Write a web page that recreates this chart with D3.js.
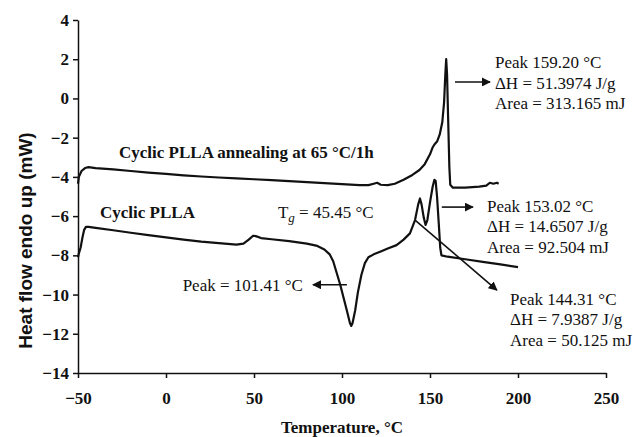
<!DOCTYPE html>
<head>
  <meta charset="utf-8">
  <script src="https://cdn.jsdelivr.net/npm/d3@7"></script>
  <style>
    body { margin:0; background:#fff; }
    .tick text { font-family: "Liberation Serif", "Times New Roman", serif; font-weight: bold; font-size: 17px; fill: #111; }
    .note { font-family: "Liberation Serif", "Times New Roman", serif; font-size: 17px; fill: #111; }
    .label { font-family: "Liberation Serif", "Times New Roman", serif; font-size: 17px; font-weight: bold; fill: #111; }
  </style>
</head>
<body>
<script>
  // annealed sample: [temperature °C, heat flow mW]
  var annealed = [
    [-50, -4.35], [-49.5, -4.0], [-48, -3.7], [-46, -3.55], [-44, -3.5], [-40, -3.55],
    [-30, -3.62], [-20, -3.7], [-10, -3.78], [0, -3.85], [10, -3.92], [20, -3.98],
    [30, -4.03], [40, -4.08], [50, -4.12], [60, -4.17], [70, -4.22], [80, -4.27],
    [90, -4.32], [100, -4.37], [110, -4.42], [115, -4.42], [118, -4.35], [120, -4.3],
    [122, -4.4], [126, -4.42], [130, -4.35], [135, -4.15], [140, -3.9], [144, -3.65],
    [147, -3.35], [150, -2.85], [151.5, -2.5], [152.5, -2.35], [154, -2.2], [155.5, -1.85],
    [157, -1.2], [158, -0.2], [158.7, 1.2], [159.2, 2.0], [159.7, 1.2], [160.3, -1.0],
    [161, -3.5], [161.5, -4.4], [163, -4.55], [170, -4.55], [178, -4.5], [182, -4.45],
    [184, -4.3], [186, -4.35], [188, -4.3], [189, -4.35]
  ];

  // as-made cyclic PLLA
  var cyclic = [
    [-50, -8.1], [-49.5, -7.9], [-48.5, -7.6], [-47.5, -7.1], [-46.5, -6.7], [-45.5, -6.55],
    [-44, -6.55], [-40, -6.6], [-30, -6.72], [-20, -6.85], [-10, -6.97], [0, -7.08],
    [10, -7.2], [20, -7.3], [30, -7.38], [40, -7.45], [44, -7.4], [47, -7.2],
    [49.5, -7.0], [51, -7.02], [54, -7.12], [60, -7.18], [70, -7.28], [80, -7.4],
    [86, -7.52], [90, -7.7], [93, -7.95], [95, -8.3], [97, -8.9], [99, -9.5],
    [101, -10.2], [103, -10.9], [104.5, -11.45], [105.3, -11.6], [106, -11.45], [107.5, -10.8],
    [109, -9.9], [111, -9.0], [113, -8.4], [115, -8.1], [118, -7.95], [122, -7.8],
    [126, -7.65], [131, -7.48], [135, -7.2], [138.6, -6.88], [141.5, -6.2], [143.3, -5.4],
    [144.3, -5.1], [145.2, -5.4], [146.5, -6.1], [147.5, -6.45], [148.5, -6.2], [150, -5.3],
    [151.5, -4.5], [152.5, -4.15], [153.2, -4.2], [154, -5.0], [155, -6.4], [155.8, -7.6],
    [156.5, -8.0], [160, -8.07], [170, -8.2], [180, -8.33], [190, -8.46], [200, -8.6]
  ];

  var xTicks = [-50, 0, 50, 100, 150, 200, 250];
  var yTicks = [4, 2, 0, -2, -4, -6, -8, -10, -12, -14];

  var margin = { top: 20, right: 27, bottom: 64, left: 78 };
  var width = 633 - margin.left - margin.right;
  var height = 437 - margin.top - margin.bottom;

  var root = d3.select("body").append("svg")
    .attr("width", 633)
    .attr("height", 437);

  root.append("defs").append("marker")
    .attr("id", "head")
    .attr("viewBox", "0 0 10 10")
    .attr("refX", 9)
    .attr("refY", 5)
    .attr("markerWidth", 9)
    .attr("markerHeight", 9)
    .attr("markerUnits", "userSpaceOnUse")
    .attr("orient", "auto")
    .append("path")
      .attr("d", "M0,0 L10,5 L0,10 z")
      .style("fill", "#111");

  var svg = root.append("g")
    .attr("transform", "translate(" + margin.left + "," + margin.top + ")");

  var x = d3.scaleLinear().domain([-50, 250]).range([0, width]);
  var y = d3.scaleLinear().domain([-14, 4]).range([height, 0]);

  var xaxis = d3.axisBottom(x).tickValues(xTicks).tickSize(5).tickSizeOuter(0).tickPadding(14);
  var yaxis = d3.axisLeft(y).tickValues(yTicks).tickSize(5).tickSizeOuter(0).tickPadding(4);

  var gx = svg.append("g")
    .attr("transform", "translate(0," + height + ")")
    .call(xaxis);
  var gy = svg.append("g").call(yaxis);

  [gx, gy].forEach(function(g) {
    g.selectAll("path, line").style("stroke", "#111").style("stroke-width", 1.5);
  });

  // axis titles
  root.append("text")
    .text("Temperature, °C")
    .attr("class", "label")
    .attr("text-anchor", "middle")
    .attr("x", margin.left + width / 2)
    .attr("y", 433);

  root.append("text")
    .text("Heat flow endo up (mW)")
    .attr("text-anchor", "middle")
    .style("font-family", "'Liberation Sans', Arial, sans-serif")
    .style("font-weight", "bold")
    .style("font-size", "19px")
    .style("fill", "#111")
    .attr("transform", "translate(32," + (margin.top + height / 2 + 44) + ") rotate(-90)");

  var line = d3.line()
    .x(function(d) { return x(d[0]); })
    .y(function(d) { return y(d[1]); });

  [annealed, cyclic].forEach(function(s) {
    svg.append("path")
      .datum(s)
      .attr("d", line)
      .style("fill", "none")
      .style("stroke", "#111")
      .style("stroke-width", 2.2)
      .style("stroke-linejoin", "round");
  });

  // curve labels
  svg.append("text").attr("class", "label")
    .attr("x", x(-26.7)).attr("y", y(-3.04))
    .text("Cyclic PLLA annealing at 65 °C/1h");
  svg.append("text").attr("class", "label")
    .attr("x", x(-37.5)).attr("y", y(-6.1))
    .text("Cyclic PLLA");

  var tg = svg.append("text").attr("class", "note")
    .attr("x", x(63.6)).attr("y", y(-6.1));
  tg.append("tspan").text("T");
  tg.append("tspan").text("g").style("font-style", "italic").style("font-size", "13px").attr("dy", 4);
  tg.append("tspan").text(" = 45.45 °C").attr("dy", -4);

  // arrows: from [T, mW] to [T, mW]
  var arrows = [
    [[102.8, -9.5], [83.5, -9.5]],
    [[164.2, 0.84], [184.1, 0.84]],
    [[156.7, -5.54], [174.4, -5.54]],
    [[141.5, -6.2], [188, -9.77]]
  ];
  svg.selectAll(".arrow")
    .data(arrows)
    .enter()
    .append("line")
      .attr("class", "arrow")
      .attr("x1", function(d) { return x(d[0][0]); })
      .attr("y1", function(d) { return y(d[0][1]); })
      .attr("x2", function(d) { return x(d[1][0]); })
      .attr("y2", function(d) { return y(d[1][1]); })
      .style("stroke", "#111")
      .style("stroke-width", 1.6)
      .attr("marker-end", "url(#head)");

  svg.append("text").attr("class", "note")
    .attr("x", x(77.8)).attr("y", y(-9.5) + 6)
    .attr("text-anchor", "end")
    .text("Peak = 101.41 °C");

  var notes = [
    { at: [186.9, 1.55], lines: ["Peak 159.20 °C", "ΔH = 51.3974 J/g", "Area = 313.165 mJ"] },
    { at: [182.4, -5.79], lines: ["Peak 153.02 °C", "ΔH = 14.6507 J/g", "Area = 92.504 mJ"] },
    { at: [195.5, -10.53], lines: ["Peak 144.31 °C", "ΔH = 7.9387 J/g", "Area = 50.125 mJ"] }
  ];
  notes.forEach(function(n) {
    var t = svg.append("text").attr("class", "note")
      .attr("x", x(n.at[0])).attr("y", y(n.at[1]));
    n.lines.forEach(function(s, i) {
      t.append("tspan").attr("x", x(n.at[0])).attr("dy", i == 0 ? 0 : 20.5).text(s);
    });
  });
</script>
</body>
